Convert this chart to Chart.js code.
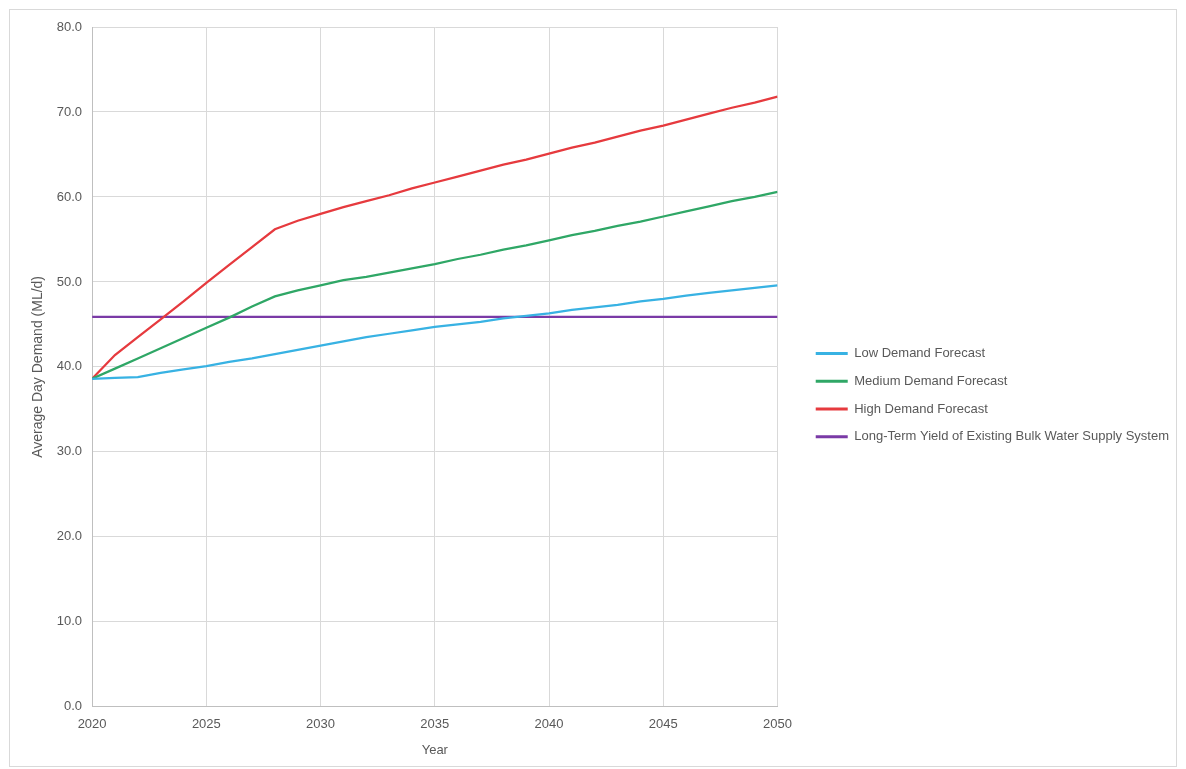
<!DOCTYPE html>
<html>
<head>
<meta charset="utf-8">
<title>Average Day Demand Forecast</title>
<script src="https://cdn.jsdelivr.net/npm/chart.js@4.4.1/dist/chart.umd.min.js"></script>
<style>
  html, body { margin: 0; padding: 0; background: #fff; overflow: hidden; }
  #frame {
    position: absolute; left: 9px; top: 9px;
    width: 1168px; height: 758px;
    border: 1px solid #d9d9d9;
    box-sizing: border-box;
  }
  #wrap { position: absolute; left: 0; top: 0; width: 1186px; height: 769px; }
</style>
</head>
<body>
<div id="frame"></div>
<div id="wrap"><canvas id="demandChart"></canvas></div>
<script>
// forecast years, one point per year
const years = [2020, 2021, 2022, 2023, 2024, 2025, 2026, 2027, 2028, 2029, 2030,
  2031, 2032, 2033, 2034, 2035, 2036, 2037, 2038, 2039, 2040,
  2041, 2042, 2043, 2044, 2045, 2046, 2047, 2048, 2049, 2050];

// average day demand, ML/d
const lowDemand = [38.6, 38.7, 38.8, 39.3, 39.7, 40.1, 40.6, 41.0, 41.5, 42.0, 42.5,
  43.0, 43.5, 43.9, 44.3, 44.7, 45.0, 45.3, 45.7, 46.0, 46.3,
  46.7, 47.0, 47.3, 47.7, 48.0, 48.4, 48.7, 49.0, 49.3, 49.6];
const mediumDemand = [38.6, 39.8, 41.0, 42.2, 43.4, 44.6, 45.8, 47.1, 48.3, 49.0, 49.6,
  50.2, 50.6, 51.1, 51.6, 52.1, 52.7, 53.2, 53.8, 54.3, 54.9,
  55.5, 56.0, 56.6, 57.1, 57.7, 58.3, 58.9, 59.5, 60.0, 60.6];
const highDemand = [38.6, 41.4, 43.5, 45.6, 47.7, 49.9, 52.0, 54.1, 56.2, 57.2, 58.0,
  58.8, 59.5, 60.2, 61.0, 61.7, 62.4, 63.1, 63.8, 64.4, 65.1,
  65.8, 66.4, 67.1, 67.8, 68.4, 69.1, 69.8, 70.5, 71.1, 71.8];
const existingYield = 45.9;

const xTicks = [2020, 2025, 2030, 2035, 2040, 2045, 2050];
const yTicks = [0, 10, 20, 30, 40, 50, 60, 70, 80];

const toPoints = vals => years.map((yr, i) => ({ x: yr, y: vals[i] }));

const textColor = '#595959';
const gridColor = '#d9d9d9';
const family = '"Liberation Sans", Arial, sans-serif';
const font = { family: family, size: 13 };

function lineSet(label, vals, color) {
  return {
    label: label,
    data: toPoints(vals),
    borderColor: color,
    backgroundColor: color,
    borderWidth: 2.25,
    pointRadius: 0,
    pointHoverRadius: 0,
    tension: 0,
    fill: false
  };
}

new Chart(document.getElementById('demandChart').getContext('2d'), {
  type: 'line',
  data: {
    datasets: [
      lineSet('Low Demand Forecast', lowDemand, '#38b2e3'),
      lineSet('Medium Demand Forecast', mediumDemand, '#2fa766'),
      lineSet('High Demand Forecast', highDemand, '#e63a3e'),
      lineSet('Long-Term Yield of Existing Bulk Water Supply System',
        years.map(() => existingYield), '#7a3aa6')
    ]
  },
  options: {
    responsive: true,
    maintainAspectRatio: false,
    animation: false,
    layout: { padding: { left: 26, top: 27, right: 7, bottom: 11 } },
    plugins: {
      tooltip: { enabled: false },
      legend: {
        position: 'right',
        align: 'center',
        maxWidth: 500,
        // empty title only nudges the entries down a little
        title: { display: true, text: ' ', font: { family: family, size: 1 }, padding: 2 },
        labels: {
          color: textColor,
          font: font,
          boxWidth: 32,
          boxHeight: 3,
          padding: 14.7,
          generateLabels: chart => {
            const items = Chart.defaults.plugins.legend.labels.generateLabels(chart);
            items.forEach(it => { it.lineWidth = 0; });
            return items;
          }
        }
      }
    },
    scales: {
      x: {
        type: 'linear',
        min: 2020,
        max: 2050,
        afterBuildTicks: axis => { axis.ticks = xTicks.map(v => ({ value: v })); },
        ticks: {
          color: textColor,
          font: font,
          padding: 10,
          maxRotation: 0,
          callback: v => String(v)
        },
        grid: { color: gridColor, drawTicks: false },
        border: { color: '#bfbfbf' },
        title: {
          display: true,
          text: 'Year',
          color: textColor,
          font: font,
          padding: { top: 0, bottom: 0 }
        }
      },
      y: {
        min: 0,
        max: 80,
        afterBuildTicks: axis => { axis.ticks = yTicks.map(v => ({ value: v })); },
        ticks: {
          color: textColor,
          font: font,
          padding: 10,
          callback: v => v.toFixed(1)
        },
        grid: { color: gridColor, drawTicks: false },
        border: { color: '#bfbfbf' },
        title: {
          display: true,
          text: 'Average Day Demand (ML/d)',
          color: textColor,
          font: { family: family, size: 14 },
          padding: { top: 4, bottom: 0 }
        }
      },
      // blank strip between the plot and the legend
      gap: {
        type: 'linear',
        position: 'right',
        display: true,
        grid: { display: false, drawOnChartArea: false },
        border: { display: false },
        ticks: { display: false },
        afterFit: s => { s.width = 23.5; }
      }
    }
  }
});
</script>
</body>
</html>
